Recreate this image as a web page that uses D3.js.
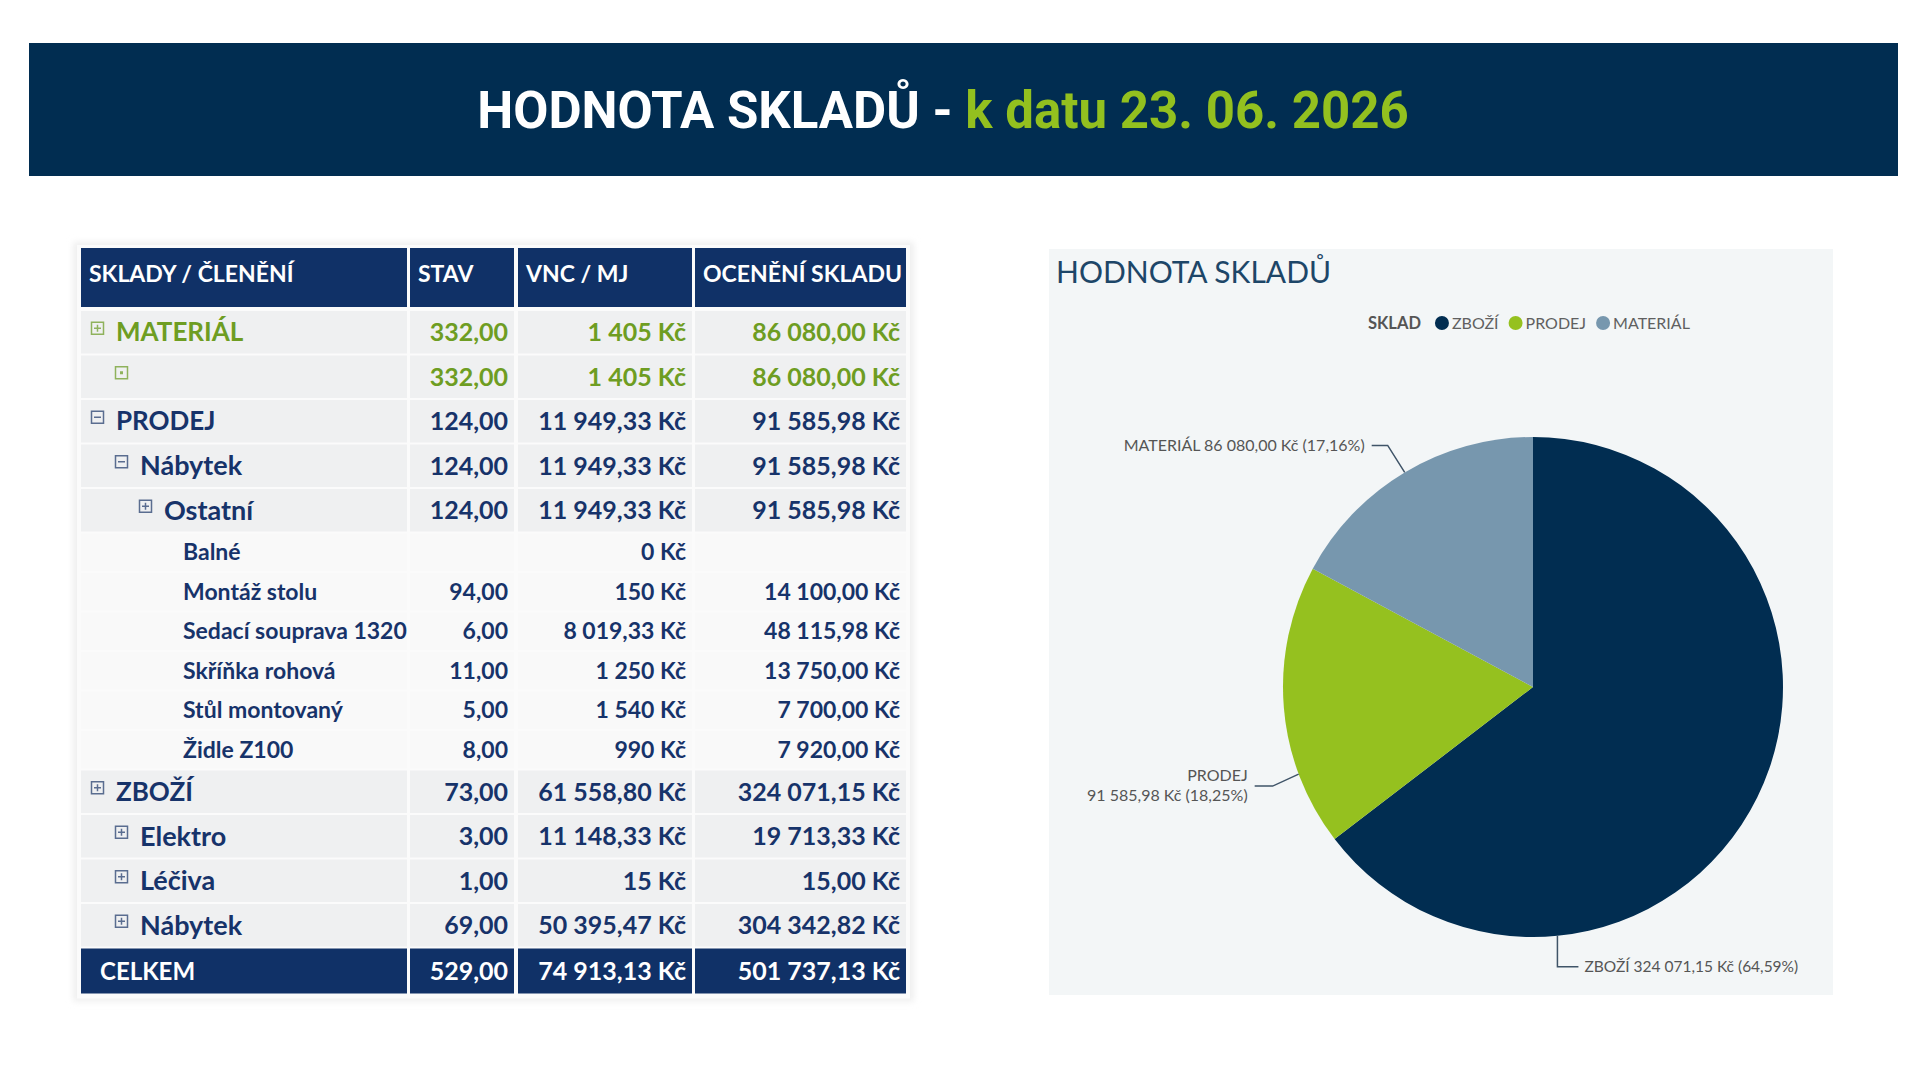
<!DOCTYPE html>
<html>
<head>
<meta charset="utf-8">
<title>Hodnota skladů</title>
<script src="https://cdn.jsdelivr.net/npm/d3@7"></script>
<style>
  body { margin: 0; background: #ffffff; }
  svg { display: block; }
</style>
</head>
<body>
<div id="container"></div>
<script>

// ---- data ----
var TITLE_MAIN = "HODNOTA SKLADŮ - ";
var TITLE_DATE = "k datu 23. 06. 2026";

var COLUMNS = ["SKLADY / ČLENĚNÍ", "STAV", "VNC / MJ", "OCENĚNÍ SKLADU"];

var ROW_LABELS = ["MATERIÁL", "", "PRODEJ", "Nábytek", "Ostatní",
		  "Balné", "Montáž stolu", "Sedací souprava 1320", "Skříňka rohová",
		  "Stůl montovaný", "Židle Z100",
		  "ZBOŽÍ", "Elektro", "Léčiva", "Nábytek"];
var ROW_LEVELS = [0, 1, 0, 1, 2, 3, 3, 3, 3, 3, 3, 0, 1, 1, 1];
var ROW_ICONS  = ["plus", "dot", "minus", "minus", "plus",
		  "", "", "", "", "", "",
		  "plus", "plus", "plus", "plus"];
var ROW_GROUP  = ["MATERIÁL", "MATERIÁL", "PRODEJ", "PRODEJ", "PRODEJ",
		  "PRODEJ", "PRODEJ", "PRODEJ", "PRODEJ", "PRODEJ", "PRODEJ",
		  "ZBOŽÍ", "ZBOŽÍ", "ZBOŽÍ", "ZBOŽÍ"];
var ROW_STAV = ["332,00", "332,00", "124,00", "124,00", "124,00",
		"", "94,00", "6,00", "11,00", "5,00", "8,00",
		"73,00", "3,00", "1,00", "69,00"];
var ROW_VNC = ["1 405 Kč", "1 405 Kč", "11 949,33 Kč", "11 949,33 Kč", "11 949,33 Kč",
	       "0 Kč", "150 Kč", "8 019,33 Kč", "1 250 Kč", "1 540 Kč", "990 Kč",
	       "61 558,80 Kč", "11 148,33 Kč", "15 Kč", "50 395,47 Kč"];
var ROW_OCENENI = ["86 080,00 Kč", "86 080,00 Kč", "91 585,98 Kč", "91 585,98 Kč", "91 585,98 Kč",
		   "", "14 100,00 Kč", "48 115,98 Kč", "13 750,00 Kč", "7 700,00 Kč", "7 920,00 Kč",
		   "324 071,15 Kč", "19 713,33 Kč", "15,00 Kč", "304 342,82 Kč"];

var TOTAL_LABEL = "CELKEM";
var TOTAL_VALUES = ["529,00", "74 913,13 Kč", "501 737,13 Kč"];

var CHART_TITLE = "HODNOTA SKLADŮ";
var LEGEND_TITLE = "SKLAD";
var PIE_LABELS = ["ZBOŽÍ", "PRODEJ", "MATERIÁL"];
var PIE_VALUES = [324071.15, 91585.98, 86080.00];

// ---- style ----
var NAVY = "#012d51";
var GREEN = "#93c01f";
var TABLE_NAVY = "#103167";
var TEXT_NAVY = "#17336a";
var TEXT_GREEN = "#6e9d22";
var PIE_COLORS = ["#012d51", "#95c11f", "#7797ae"];

var COL_X = [81, 410, 518, 695];
var COL_W = [326, 104, 174, 211];
var CELL_PAD = 8;

var HEADER_TOP = 248, HEADER_H = 59;
var BODY_TOP = 310;
var GROUP_H = 44.5, DETAIL_H = 39.5, TOTAL_H = 46;

var sel = d3.select("#container");

var csLocale = d3.formatLocale({ decimal: ",", thousands: " ", grouping: [3], currency: ["", ""] });
var fmtMoney = function (v) { return csLocale.format(",.2f")(v) + " Kč"; };
var fmtPct = function (v) { return csLocale.format(".2f")(v * 100) + "%"; };

var draw_header = function (svg)
{
    svg.append("rect")
	.attr("x", 29).attr("y", 43)
	.attr("width", 1869).attr("height", 133)
	.attr("fill", NAVY);

    var t = svg.append("text")
	.attr("x", 943).attr("y", 128)
	.attr("text-anchor", "middle")
	.style("font-family", "Roboto")
	.style("font-weight", 700)
	.style("font-size", "51px");
    t.append("tspan").attr("fill", "#ffffff").text(TITLE_MAIN);
    t.append("tspan").attr("fill", GREEN).text(TITLE_DATE);
}

var draw_icon = function (g, kind, x, y, color)
{
    if (!kind) return;
    var s = 12;
    g.append("rect")
	.attr("x", x + 0.5).attr("y", y - s / 2 - 4)
	.attr("width", s).attr("height", s)
	.attr("fill", "none")
	.attr("stroke", color)
	.attr("stroke-width", 1.5);
    var cx = x + 0.5 + s / 2, cy = y - 4;
    if (kind == "dot") {
	g.append("rect").attr("x", cx - 1.5).attr("y", cy - 1.5)
	    .attr("width", 3).attr("height", 3).attr("fill", color);
	return;
    }
    g.append("line").attr("x1", cx - 3.5).attr("x2", cx + 3.5)
	.attr("y1", cy).attr("y2", cy)
	.attr("stroke", color).attr("stroke-width", 1.5);
    if (kind == "plus")
	g.append("line").attr("x1", cx).attr("x2", cx)
	    .attr("y1", cy - 3.5).attr("y2", cy + 3.5)
	    .attr("stroke", color).attr("stroke-width", 1.5);
}

var draw_table = function (svg)
{
    var rows = ROW_LABELS.map(function (lbl, i) {
	return {
	    label: lbl,
	    level: ROW_LEVELS[i],
	    icon: ROW_ICONS[i],
	    green: ROW_GROUP[i] == "MATERIÁL",
	    detail: ROW_LEVELS[i] == 3,
	    values: [ROW_STAV[i], ROW_VNC[i], ROW_OCENENI[i]]
	};
    });

    // row tops from heights
    var y = BODY_TOP;
    rows.forEach(function (r) {
	r.h = r.detail ? DETAIL_H : GROUP_H;
	r.y = y;
	y += r.h;
    });
    var totalY = y;

    var g = svg.append("g").classed("table", true);

    var defs = svg.append("defs");
    defs.append("filter").attr("id", "soft")
	.attr("x", "-5%").attr("y", "-5%").attr("width", "110%").attr("height", "110%")
	.append("feGaussianBlur").attr("stdDeviation", 3);

    g.append("rect")
	.attr("x", COL_X[0] - 8).attr("y", HEADER_TOP - 6)
	.attr("width", COL_X[3] + COL_W[3] - COL_X[0] + 16)
	.attr("height", totalY + TOTAL_H - HEADER_TOP + 14)
	.attr("fill", "#efefef")
	.attr("filter", "url(#soft)");
    g.append("rect")
	.attr("x", COL_X[0] - 4).attr("y", HEADER_TOP - 3)
	.attr("width", COL_X[3] + COL_W[3] - COL_X[0] + 8)
	.attr("height", totalY + TOTAL_H - HEADER_TOP + 8)
	.attr("fill", "#fbfbfb");

    // header
    var head = g.append("g");
    head.selectAll("rect")
	.data(COLUMNS)
	.enter()
	.append("rect")
	.attr("x", function (_, i) { return COL_X[i]; })
	.attr("y", HEADER_TOP)
	.attr("width", function (_, i) { return COL_W[i]; })
	.attr("height", HEADER_H)
	.attr("fill", TABLE_NAVY);
    head.selectAll("text")
	.data(COLUMNS)
	.enter()
	.append("text")
	.attr("x", function (_, i) { return COL_X[i] + CELL_PAD; })
	.attr("y", HEADER_TOP + HEADER_H / 2 - 4)
	.attr("dy", "0.35em")
	.attr("fill", "#ffffff")
	.style("font-family", "Lato")
	.style("font-weight", 700)
	.style("font-size", "23px")
	.text(function (d) { return d; });

    // body rows
    var row_g = g.selectAll("g.row")
	.data(rows)
	.enter()
	.append("g")
	.classed("row", true);

    row_g.each(function (r) {
	var rg = d3.select(this);
	var fill = r.detail ? "#f9f9f9" : "#eff0f1";
	var color = r.green ? TEXT_GREEN : TEXT_NAVY;
	var iconColor = r.green ? "#8fb25c" : "#5a6d90";
	var cy = r.y + r.h / 2;
	var labelSize = r.level == 0 ? "26px" : (r.detail ? "23px" : "27px");
	var numSize = r.detail ? "23px" : "25px";

	COL_X.forEach(function (x, i) {
	    rg.append("rect")
		.attr("x", x).attr("y", r.y + 1)
		.attr("width", COL_W[i]).attr("height", r.h - 2)
		.attr("fill", fill);
	});

	var indent = COL_X[0] + 10 + r.level * 24;
	draw_icon(rg, r.icon, indent, cy, iconColor);

	rg.append("text")
	    .attr("x", r.detail ? indent + 20 : indent + 25)
	    .attr("y", cy)
	    .attr("dy", "0.35em")
	    .attr("fill", color)
	    .style("font-family", "Lato")
	    .style("font-weight", 700)
	    .style("font-size", labelSize)
	    .text(r.label);

	r.values.forEach(function (v, i) {
	    rg.append("text")
		.attr("x", COL_X[i + 1] + COL_W[i + 1] - 6)
		.attr("y", cy)
		.attr("dy", "0.35em")
		.attr("text-anchor", "end")
		.attr("fill", color)
		.style("font-family", "Lato")
		.style("font-weight", 700)
		.style("font-size", numSize)
		.text(v);
	});
    });

    // total row
    var tg = g.append("g").classed("total", true);
    COL_X.forEach(function (x, i) {
	tg.append("rect")
	    .attr("x", x).attr("y", totalY + 1)
	    .attr("width", COL_W[i]).attr("height", TOTAL_H - 1)
	    .attr("fill", TABLE_NAVY);
    });
    var tcy = totalY + TOTAL_H / 2 + 1;
    tg.append("text")
	.attr("x", COL_X[0] + 19).attr("y", tcy).attr("dy", "0.35em")
	.attr("fill", "#ffffff")
	.style("font-family", "Lato").style("font-weight", 700).style("font-size", "24px")
	.text(TOTAL_LABEL);
    TOTAL_VALUES.forEach(function (v, i) {
	tg.append("text")
	    .attr("x", COL_X[i + 1] + COL_W[i + 1] - 6).attr("y", tcy).attr("dy", "0.35em")
	    .attr("text-anchor", "end")
	    .attr("fill", "#ffffff")
	    .style("font-family", "Lato").style("font-weight", 700).style("font-size", "25px")
	    .text(v);
    });
}

var draw_pie = function (svg)
{
    var PANEL = { x: 1049, y: 249, w: 784, h: 746 };
    var CX = 1533, CY = 687, R = 250;

    var g = svg.append("g").classed("pie-panel", true);

    g.append("rect")
	.attr("x", PANEL.x).attr("y", PANEL.y)
	.attr("width", PANEL.w).attr("height", PANEL.h)
	.attr("fill", "#f3f6f7");

    g.append("text")
	.attr("x", PANEL.x + 7).attr("y", PANEL.y + 34)
	.attr("fill", "#1d4668")
	.style("font-family", "Lato")
	.style("font-size", "30px")
	.text(CHART_TITLE);

    // legend
    var lg = g.append("g").attr("transform", "translate(1368,323)");
    var lt = lg.append("text")
	.attr("x", 0).attr("dy", "0.35em")
	.attr("fill", "#555555")
	.style("font-family", "Lato").style("font-weight", 700).style("font-size", "16.5px")
	.text(LEGEND_TITLE);
    var lx = lt.node().getComputedTextLength() + 21;

    PIE_LABELS.forEach(function (lbl, i) {
	lg.append("circle")
	    .attr("cx", lx).attr("cy", 0).attr("r", 7)
	    .attr("fill", PIE_COLORS[i]);
	var t = lg.append("text")
	    .attr("x", lx + 10).attr("dy", "0.35em")
	    .attr("fill", "#606060")
	    .style("font-family", "Lato").style("font-size", "16px")
	    .text(lbl);
	lx += 10 + t.node().getComputedTextLength() + 17;
    });

    var total = d3.sum(PIE_VALUES);
    var slices = d3.pie()
	.sort(null)
	.value(function (d) { return d; })(PIE_VALUES);

    var arc = d3.arc().innerRadius(0).outerRadius(R);

    var pg = g.append("g").attr("transform", "translate(" + CX + "," + CY + ")");

    pg.selectAll("path")
	.data(slices)
	.enter()
	.append("path")
	.attr("d", arc)
	.attr("fill", function (_, i) { return PIE_COLORS[i]; });

    // leader lines + labels
    var LAYOUT = [
	{ at: 0.75, elbow: [0, 31], run: 21, split: false },
	{ at: 0.26, elbow: [-26, 12], run: -18, split: true },
	{ at: 0.5, elbow: [-17, -27], run: -16, split: false }
    ];

    slices.forEach(function (s, i) {
	var L = LAYOUT[i];
	var a = s.startAngle + L.at * (s.endAngle - s.startAngle);
	var p0 = [R * Math.sin(a), -R * Math.cos(a)];
	var p1 = [p0[0] + L.elbow[0], p0[1] + L.elbow[1]];
	var p2 = [p1[0] + L.run, p1[1]];

	pg.append("path")
	    .attr("d", d3.line()([p0, p1, p2]))
	    .attr("fill", "none")
	    .attr("stroke", "#3f5468")
	    .attr("stroke-width", 1.5);

	var name = PIE_LABELS[i];
	var val = fmtMoney(PIE_VALUES[i]) + " (" + fmtPct(PIE_VALUES[i] / total) + ")";
	var right = L.run > 0;
	var tx = p2[0] + (right ? 6 : -7);

	var t = pg.append("text")
	    .attr("text-anchor", right ? "start" : "end")
	    .attr("fill", "#555555")
	    .style("font-family", "Lato")
	    .style("font-size", right ? "15.5px" : "16px");

	if (L.split) {
	    t.append("tspan").attr("x", tx).attr("y", p2[1] - 11).attr("dy", "0.35em").text(name);
	    t.append("tspan").attr("x", tx).attr("y", p2[1] + 9).attr("dy", "0.35em").text(val);
	} else {
	    t.attr("x", tx).attr("y", p2[1]).attr("dy", "0.35em").text(name + " " + val);
	}
    });
}

var main = function ()
{
    var svg = sel.append("svg")
	.attr("width", 1920)
	.attr("height", 1080);

    svg.append("rect").attr("width", 1920).attr("height", 1080).attr("fill", "#ffffff");

    draw_header(svg);
    draw_table(svg);
    draw_pie(svg);
}

main();

</script>
</body>
</html>
